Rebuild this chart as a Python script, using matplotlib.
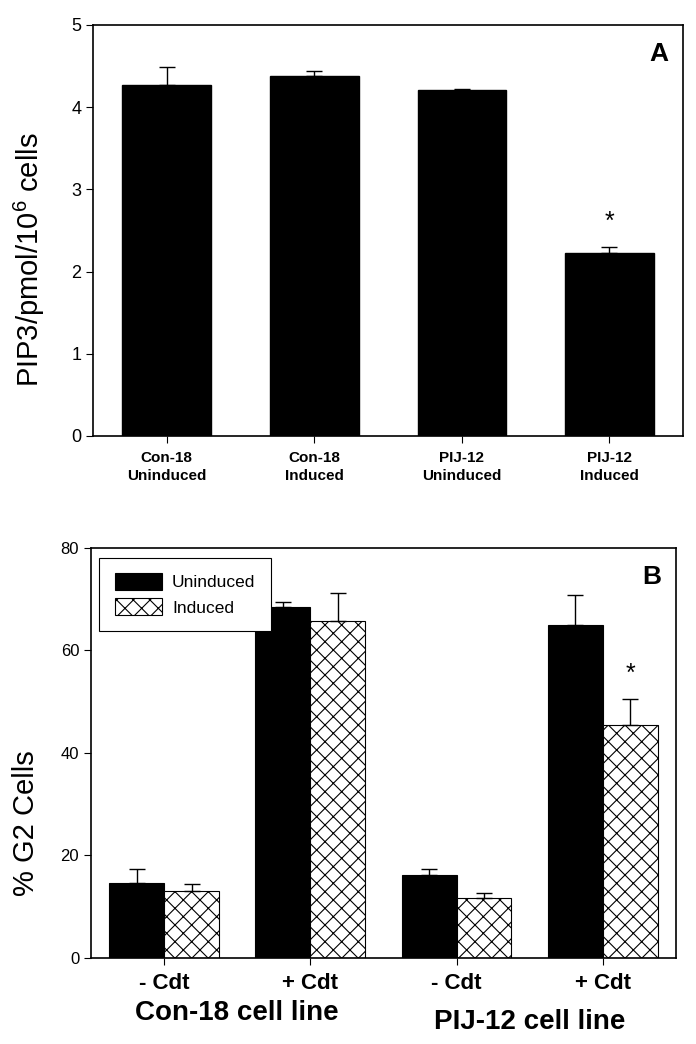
import matplotlib
matplotlib.use("Agg")
import matplotlib.pyplot as plt
from matplotlib import font_manager
import numpy as np

# pick a narrow Arial-like face if the box has one
names = set(f.name for f in font_manager.fontManager.ttflist)
narrow = "Liberation Sans Narrow" if "Liberation Sans Narrow" in names else "Liberation Sans"
plt.rcParams["font.family"] = [narrow, "DejaVu Sans"]
plt.rcParams["hatch.linewidth"] = 0.8

# Panel A data
a_labels = ["Con-18\nUninduced", "Con-18\nInduced", "PIJ-12\nUninduced", "PIJ-12\nInduced"]
a_values = [4.27, 4.38, 4.21, 2.23]
a_errors = [0.22, 0.06, 0.01, 0.07]

# Panel B data
b_ticks = ["- Cdt", "+ Cdt", "- Cdt", "+ Cdt"]
b_groups = ["Con-18 cell line", "PIJ-12 cell line"]
b_uninduced = [14.7, 68.5, 16.1, 65.0]
b_uninduced_err = [2.7, 1.0, 1.3, 5.8]
b_induced = [13.0, 65.8, 11.8, 45.5]
b_induced_err = [1.4, 5.4, 0.9, 5.1]

fig = plt.figure(figsize=(6.96, 10.44), dpi=100)

# ---- panel A ----
ax1 = fig.add_axes([0.1336, 0.5824, 0.848, 0.3937])
x = np.arange(1, 5)
ax1.bar(x, a_values, width=0.6, color="black", edgecolor="black")
ax1.errorbar(x, a_values, yerr=[np.zeros(4), a_errors], fmt="none",
             ecolor="black", elinewidth=1, capsize=6, capthick=1)
ax1.set_xlim(0.5, 4.5)
ax1.set_ylim(0, 5)
ax1.set_yticks([0, 1, 2, 3, 4, 5])
ax1.set_xticks(x)
ax1.set_xticklabels(a_labels, fontsize=11, fontweight="bold", linespacing=1.3)
ax1.tick_params(axis="y", labelsize=13, direction="out", length=5)
ax1.tick_params(axis="x", direction="out", length=5, pad=6)
ax1.set_ylabel("PIP3/pmol/10$^{\\mathregular{6}}$ cells", fontsize=21)
ax1.yaxis.set_label_coords(-0.078, 0.43)
ax1.text(4, 2.6, "*", ha="center", va="center", fontsize=18)
ax1.text(0.975, 0.93, "A", transform=ax1.transAxes, ha="right", va="center",
         fontsize=19, fontweight="bold")

# ---- panel B ----
ax2 = fig.add_axes([0.1307, 0.0824, 0.8405, 0.3927])
w = 0.375
ax2.bar(x - w / 2, b_uninduced, width=w, color="black", edgecolor="black",
        linewidth=0.8, label="Uninduced")
ax2.bar(x + w / 2, b_induced, width=w, color="white", edgecolor="black",
        hatch="xx", linewidth=0.8, label="Induced")
ax2.errorbar(x - w / 2, b_uninduced, yerr=[np.zeros(4), b_uninduced_err], fmt="none",
             ecolor="black", elinewidth=1, capsize=6, capthick=1)
ax2.errorbar(x + w / 2, b_induced, yerr=[np.zeros(4), b_induced_err], fmt="none",
             ecolor="black", elinewidth=1, capsize=6, capthick=1)
ax2.set_xlim(0.5, 4.5)
ax2.set_ylim(0, 80)
ax2.set_yticks([0, 20, 40, 60, 80])
ax2.set_xticks(x)
ax2.set_xticklabels(b_ticks, fontsize=16, fontweight="bold")
ax2.tick_params(axis="y", labelsize=12, direction="out", length=5)
ax2.tick_params(axis="x", direction="out", length=5, pad=6)
ax2.set_ylabel("% G2 Cells", fontsize=21)
ax2.yaxis.set_label_coords(-0.087, 0.33)
ax2.text(4 + w / 2, 55.5, "*", ha="center", va="center", fontsize=18)
ax2.text(0.975, 0.93, "B", transform=ax2.transAxes, ha="right", va="center",
         fontsize=19, fontweight="bold")
for i, g in enumerate(b_groups):
    ax2.text(1.5 + 2 * i, -0.135 - 0.02 * i, g, transform=ax2.get_xaxis_transform(),
             ha="center", va="center", fontsize=20, fontweight="bold")

leg = ax2.legend(loc="upper left", bbox_to_anchor=(0.008, 0.985), fontsize=12.5,
                 fancybox=False, edgecolor="black", framealpha=1,
                 handlelength=2.7, handleheight=1.1, borderpad=0.9, labelspacing=0.45,
                 handletextpad=0.6, borderaxespad=0.2)
leg.get_frame().set_linewidth(0.8)

for ax in (ax1, ax2):
    for s in ax.spines.values():
        s.set_linewidth(1.2)

fig.savefig("out.png", dpi=100)
